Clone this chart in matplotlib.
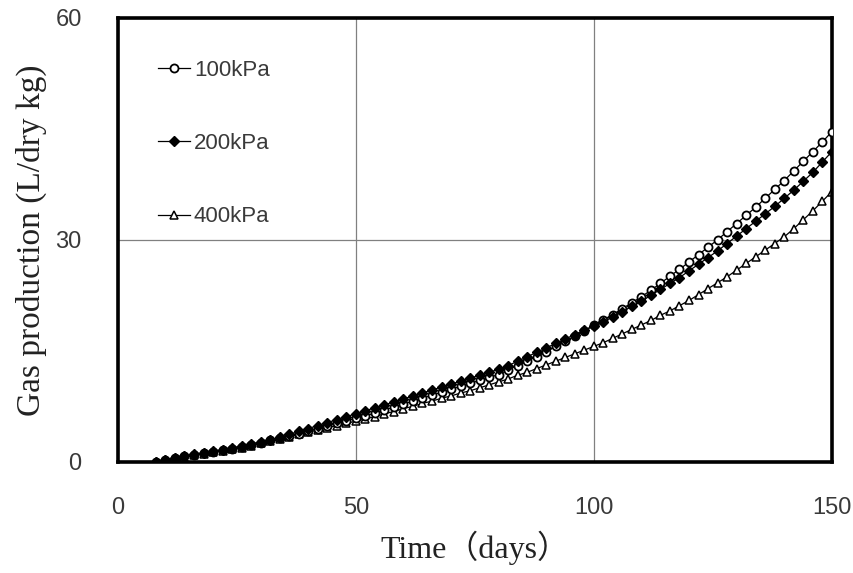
import matplotlib
matplotlib.use('Agg')
import matplotlib.pyplot as plt
import numpy as np

# ── data (every 2 days) ──
days = list(range(8, 151, 2))

gas_100 = [0.0, 0.25, 0.5, 0.75, 0.95, 1.15, 1.35, 1.55, 1.8, 2.0,
           2.3, 2.6, 2.9, 3.2, 3.5, 3.8, 4.2, 4.5, 4.8, 5.2,
           5.5, 5.9, 6.2, 6.6, 7.0, 7.4, 7.8, 8.2, 8.6, 9.0,
           9.4, 9.8, 10.2, 10.6, 11.0, 11.4, 11.8, 12.4, 13.0, 13.6,
           14.2, 14.9, 15.6, 16.3, 17.0, 17.7, 18.5, 19.2, 19.9, 20.7,
           21.5, 22.3, 23.2, 24.1, 25.1, 26.0, 27.0, 28.0, 29.0, 30.0,
           31.1, 32.2, 33.3, 34.4, 35.6, 36.8, 38.0, 39.3, 40.6, 41.9,
           43.2, 44.6]

gas_200 = [0.0, 0.25, 0.5, 0.75, 1.0, 1.2, 1.4, 1.65, 1.9, 2.1,
           2.4, 2.7, 3.0, 3.3, 3.7, 4.1, 4.5, 4.9, 5.3, 5.7,
           6.1, 6.5, 6.9, 7.3, 7.7, 8.1, 8.5, 8.9, 9.3, 9.7,
           10.1, 10.5, 10.9, 11.3, 11.7, 12.1, 12.5, 13.0, 13.6, 14.2,
           14.8, 15.4, 16.0, 16.6, 17.2, 17.8, 18.3, 18.9, 19.6, 20.3,
           21.0, 21.7, 22.5, 23.3, 24.1, 24.9, 25.8, 26.7, 27.6, 28.5,
           29.5, 30.5, 31.5, 32.5, 33.5, 34.5, 35.6, 36.7, 37.9, 39.1,
           40.5, 41.9]

gas_400 = [0.0, 0.2, 0.45, 0.7, 0.9, 1.1, 1.3, 1.5, 1.7, 1.9,
           2.2, 2.5, 2.8, 3.1, 3.4, 3.7, 4.0, 4.3, 4.6, 4.9,
           5.2, 5.5, 5.8, 6.1, 6.5, 6.8, 7.2, 7.5, 7.9, 8.2,
           8.6, 8.9, 9.3, 9.6, 10.0, 10.4, 10.8, 11.2, 11.7, 12.1,
           12.6, 13.1, 13.6, 14.1, 14.6, 15.1, 15.6, 16.1, 16.7, 17.3,
           17.9, 18.5, 19.1, 19.8, 20.4, 21.1, 21.8, 22.6, 23.4, 24.2,
           25.0, 25.9, 26.8, 27.7, 28.6, 29.5, 30.4, 31.5, 32.7, 33.9,
           35.2, 36.5]

labels = ['100kPa', '200kPa', '400kPa']
x_ticks = [0, 50, 100, 150]
y_ticks = [0, 30, 60]

num_font = 'Liberation Sans'
num_size = 17

# ── figure ──
fig = plt.figure(figsize=(8.54, 5.73), dpi=100)
ax = fig.add_axes([0.138, 0.194, 0.836, 0.775])

ax.plot(days, gas_100, '-o', color='black', lw=0.9, ms=5.8, mfc='white',
        mec='black', mew=1.3, label=labels[0], zorder=3)
ax.plot(days, gas_200, '-D', color='black', lw=0.9, ms=5.0, mfc='black',
        mec='black', mew=1.0, label=labels[1], zorder=4)
ax.plot(days, gas_400, '-^', color='black', lw=0.9, ms=6.0, mfc='white',
        mec='black', mew=1.1, label=labels[2], zorder=2)

ax.set_xlim(0, 150)
ax.set_ylim(0, 60)
ax.set_xticks(x_ticks)
ax.set_yticks(y_ticks)
ax.grid(True, color='#808080', lw=0.9)
ax.set_axisbelow(True)
ax.tick_params(length=0, labelsize=num_size, labelcolor='#3a3a3a')
ax.tick_params(axis='x', pad=25)
ax.tick_params(axis='y', pad=26)
for lab in ax.get_xticklabels() + ax.get_yticklabels():
    lab.set_family(num_font)

for s in ax.spines.values():
    s.set_linewidth(2.6)
    s.set_color('black')

ax.set_xlabel('Time（days）', fontsize=23, color='#222222',
              family=['Liberation Serif', 'Noto Sans CJK JP'], labelpad=9)
ax.set_ylabel('Gas production (L/dry kg)', fontsize=24, color='#222222',
              family='Liberation Serif', labelpad=6)

leg = ax.legend(loc='upper left', bbox_to_anchor=(0.041, 0.93), frameon=True,
                facecolor='white', edgecolor='none', framealpha=1.0,
                handlelength=1.45, handletextpad=0.15,
                labelspacing=2.35, borderpad=0.5, borderaxespad=0.0,
                prop={'family': num_font, 'size': 16})
leg.get_frame().set_linewidth(0)
for t in leg.get_texts():
    t.set_color('#3a3a3a')

plt.savefig('out.png', dpi=100)
